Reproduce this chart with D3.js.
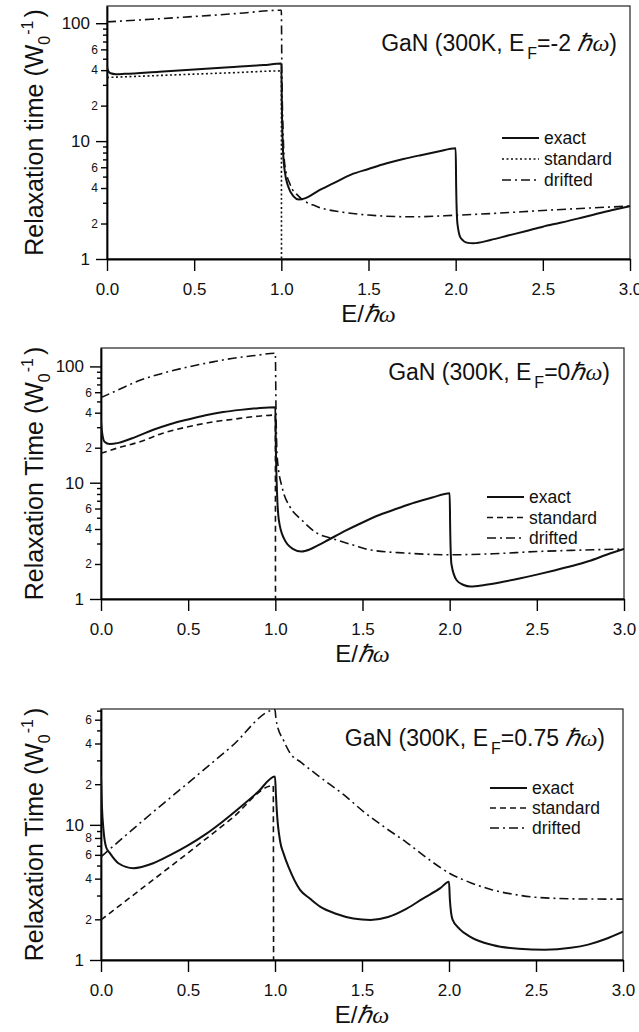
<!DOCTYPE html>
<html lang="en">
<head>
  <meta charset="UTF-8">
  <title>GaN relaxation time</title>
  <script src="https://cdnjs.cloudflare.com/ajax/libs/d3/7.8.5/d3.min.js"></script>
  <style>
    body { margin: 0; background: white; }
    svg { background: white; display: block; }
    text { font-family: "Liberation Sans", Arial, sans-serif; fill: #111; }
  </style>
</head>
<body>
  <script>
    // x values are E / hbar-omega, y values are relaxation times in units of 1/W0

    // panel 1 : E_F = -2 hbar omega
    var exact1 = [[0,43],[0.005,40],[0.02,37.6],[0.05,37],[0.1,37.2],[0.3,38.8],[0.5,40.5],[0.7,42.3],[0.9,44.2],[1.0,45.5],
      [1.003,20],[1.01,8],[1.02,5.5],[1.04,4.1],[1.07,3.4],[1.1,3.2],[1.13,3.25],[1.16,3.4],[1.2,3.7],[1.3,4.4],[1.4,5.2],
      [1.5,5.8],[1.6,6.45],[1.7,7.05],[1.8,7.6],[1.9,8.15],[2.0,8.7],[2.003,4],[2.01,2],[2.03,1.5],[2.07,1.37],[2.1,1.36],
      [2.2,1.45],[2.3,1.58],[2.4,1.72],[2.5,1.88],[2.6,2.03],[2.7,2.2],[2.8,2.4],[2.9,2.6],[3.0,2.81]];
    var standard1 = [[0,34.7],[0.25,35.8],[0.5,37],[0.75,38.2],[1.0,39.4],[1.001,0.5]];
    var drifted1 = [[0,102.6],[0.25,108],[0.5,114],[0.75,121],[1.0,129],[1.003,40],[1.01,12],[1.02,6.3],[1.05,4.3],[1.1,3.4],
      [1.2,2.8],[1.35,2.5],[1.5,2.36],[1.75,2.28],[2.0,2.35],[2.25,2.45],[2.5,2.58],[2.75,2.7],[3.0,2.81]];

    // panel 2 : E_F = 0
    var exact2 = [[0,34],[0.005,28],[0.02,22.5],[0.05,21.5],[0.1,22],[0.2,24.8],[0.3,28.5],[0.4,32],[0.5,35],[0.6,38],[0.7,40.5],
      [0.8,42.3],[0.9,43.7],[1.0,44.5],[1.003,20],[1.01,8],[1.02,4.8],[1.05,3.3],[1.1,2.7],[1.15,2.56],[1.2,2.68],[1.25,2.92],
      [1.3,3.2],[1.4,3.85],[1.5,4.55],[1.6,5.3],[1.7,6.0],[1.8,6.75],[1.9,7.45],[2.0,8.13],[2.003,4],[2.01,2],[2.04,1.45],
      [2.08,1.32],[2.12,1.28],[2.2,1.32],[2.3,1.4],[2.4,1.5],[2.5,1.62],[2.6,1.76],[2.7,1.92],[2.8,2.12],[2.9,2.4],[3.0,2.69]];
    var standard2 = [[0,17.9],[0.1,20],[0.224,22.5],[0.35,26.5],[0.5,30.3],[0.65,33.5],[0.75,35],[0.9,37.3],[1.0,38.2],[1.001,0.5]];
    var drifted2 = [[0,54],[0.1,63],[0.224,76],[0.35,87],[0.5,99],[0.65,110],[0.75,117],[0.9,125],[1.0,130],[1.004,40],
      [1.012,15.7],[1.04,9],[1.084,6.2],[1.15,4.8],[1.237,3.7],[1.33,3.3],[1.45,2.9],[1.54,2.65],[1.75,2.48],[2.0,2.4],
      [2.25,2.45],[2.5,2.56],[2.75,2.63],[3.0,2.69]];

    // panel 3 : E_F = 0.75 hbar omega
    var exact3 = [[0,22.8],[0.005,14],[0.015,9],[0.03,6.8],[0.05,6.2],[0.1,5.2],[0.186,4.78],[0.3,5.2],[0.4,6.0],[0.5,7.05],
      [0.6,8.5],[0.7,10.6],[0.8,13.5],[0.9,17.4],[1.0,22.8],[1.005,17],[1.01,12.9],[1.03,7.5],[1.048,6.2],[1.08,4.8],[1.144,3.3],
      [1.2,2.85],[1.259,2.48],[1.35,2.2],[1.45,2.03],[1.55,1.98],[1.65,2.08],[1.757,2.4],[1.85,2.85],[1.95,3.4],[2.0,3.8],
      [2.005,2.8],[2.02,2.0],[2.06,1.7],[2.12,1.49],[2.25,1.29],[2.4,1.21],[2.55,1.19],[2.7,1.23],[2.8,1.3],[2.9,1.43],[3.0,1.62]];
    var standard3 = [[0,1.98],[0.25,3.5],[0.5,6.2],[0.75,11.1],[0.99,19.5],[0.992,0.5]];
    var drifted3 = [[0,5.8],[0.25,11],[0.5,20.4],[0.75,38],[1.0,71],[1.005,62],[1.01,56.6],[1.05,42],[1.086,34],[1.15,29],
      [1.26,22.5],[1.4,16.5],[1.51,12.5],[1.63,9.6],[1.757,7.4],[1.88,5.6],[2.0,4.4],[2.12,3.75],[2.25,3.3],[2.38,3.05],
      [2.5,2.91],[2.75,2.83],[3.0,2.82]];

    var xTicks = [0, 0.5, 1.0, 1.5, 2.0, 2.5, 3.0];
    var seriesNames = ["exact", "standard", "drifted"];
    var fermiLabels = ["-2 ", "0", "0.75 "];

    var w = 639;
    var h = 1032;

    var svg = d3.select("body").append("svg")
      .attr("width", w)
      .attr("height", h);

    var panels = [
      { box: [107, 630, 6, 259], ymax: 140, data: [exact1, standard1, drifted1], ylab: "Relaxation time (W",
        titleX: 617, titleY: 51, legX: 502, legY: 138, legGap: 21, stdDash: "2,2.5", minorLab: [2,4,6] },
      { box: [101, 624, 348, 599], ymax: 144, data: [exact2, standard2, drifted2], ylab: "Relaxation Time (W",
        titleX: 610, titleY: 380, legX: 487, legY: 497, legGap: 20.5, stdDash: "6,4", minorLab: [2,4,6] },
      { box: [101, 623, 709, 960], ymax: 72, data: [exact3, standard3, drifted3], ylab: "Relaxation Time (W",
        titleX: 605, titleY: 746, legX: 490, legY: 788, legGap: 20, stdDash: "6,4", minorLab: [2,4,6,8] }
    ];

    panels.forEach(function(p, i) {
      var L = p.box[0], R = p.box[1], T = p.box[2], B = p.box[3];
      var g = svg.append("g");

      var x = d3.scaleLinear().domain([0, 3]).range([L, R]);
      var y = d3.scaleLog().domain([1, p.ymax]).range([B, T]);

      // split log ticks into decades, labelled minors and plain minors
      var majors = [], labMinors = [], minors = [];
      for (var d = 1; d <= 100; d *= 10) {
        for (var k = 1; k <= 9; k++) {
          var v = k * d;
          if (v > p.ymax) continue;
          if (k == 1) majors.push(v);
          else if (p.minorLab.indexOf(k) >= 0) labMinors.push(v);
          else minors.push(v);
        }
      }

      g.append("clipPath").attr("id", "clip" + i)
        .append("rect").attr("x", L).attr("y", T).attr("width", R - L).attr("height", B - T);

      // thin frame on top and right
      g.append("rect")
        .attr("x", L).attr("y", T).attr("width", R - L).attr("height", B - T)
        .attr("fill", "none").attr("stroke", "#222").attr("stroke-width", 1.2);

      g.append("g").attr("transform", "translate(" + L + ",0)")
        .call(d3.axisLeft(y).tickValues(minors).tickSize(4).tickSizeOuter(0).tickFormat(""))
        .call(function(s) { s.select(".domain").remove(); });
      g.append("g").attr("transform", "translate(" + L + ",0)")
        .call(d3.axisLeft(y).tickValues(labMinors).tickSize(6).tickSizeOuter(0).tickPadding(3)
          .tickFormat(function(v) { return String(v / Math.pow(10, Math.floor(Math.log10(v) + 1e-9))); }))
        .call(function(s) { s.select(".domain").remove(); s.selectAll("text").attr("font-size", 12); });
      g.append("g").attr("transform", "translate(" + L + ",0)")
        .call(d3.axisLeft(y).tickValues(majors).tickSize(11).tickSizeOuter(0).tickPadding(6).tickFormat(d3.format("d")))
        .call(function(s) { s.select(".domain").attr("stroke-width", 1.8); s.selectAll("text").attr("font-size", 17); });

      g.append("g").attr("transform", "translate(0," + B + ")")
        .call(d3.axisBottom(x).tickValues(xTicks).tickSize(12).tickSizeOuter(0).tickPadding(12).tickFormat(d3.format(".1f")))
        .call(function(s) { s.select(".domain").attr("stroke-width", 1.8); s.selectAll("text").attr("font-size", 17); });

      g.selectAll(".tick line").attr("stroke-width", 1.4);
      g.selectAll(".tick text").attr("fill", "#111").attr("font-family", "Liberation Sans, Arial, sans-serif");

      // curves
      var line = d3.line()
        .x(function(d) { return x(d[0]); })
        .y(function(d) { return y(d[1]); })
        .curve(d3.curveMonotoneX);

      var dashes = [null, p.stdDash, "9,4,2,4"];
      var widths = [2, 1.6, 1.6];

      g.append("g").attr("clip-path", "url(#clip" + i + ")")
        .selectAll("path")
        .data(p.data)
        .enter()
        .append("path")
        .attr("d", line)
        .attr("fill", "none")
        .attr("stroke", "#111")
        .attr("stroke-width", function(d, j) { return widths[j]; })
        .attr("stroke-dasharray", function(d, j) { return dashes[j]; });

      // legend
      var leg = g.selectAll(".leg")
        .data(seriesNames)
        .enter()
        .append("g")
        .attr("transform", function(d, j) { return "translate(" + p.legX + "," + (p.legY + j * p.legGap) + ")"; });
      leg.append("line")
        .attr("x1", 0).attr("x2", 37).attr("y1", 0).attr("y2", 0)
        .attr("stroke", "#111")
        .attr("stroke-width", function(d, j) { return widths[j]; })
        .attr("stroke-dasharray", function(d, j) { return dashes[j]; });
      leg.append("text")
        .attr("x", 42).attr("y", 6)
        .attr("font-size", 17.5)
        .text(function(d) { return d; });

      // title
      var t = g.append("text")
        .attr("x", p.titleX).attr("y", p.titleY)
        .attr("text-anchor", "end")
        .attr("font-size", 23);
      t.append("tspan").text("GaN (300K, E");
      t.append("tspan").attr("font-size", 16).attr("dx", 3).attr("dy", 8).text("F");
      t.append("tspan").attr("dy", -8).text("=" + fermiLabels[i]);
      t.append("tspan").attr("font-family", "Liberation Serif, serif").attr("font-style", "italic").attr("font-size", 24).text("\u210F\u03C9");
      t.append("tspan").text(")");

      // axis titles
      var yl = g.append("text")
        .attr("transform", "translate(43," + ((T + B) / 2) + ") rotate(-90)")
        .attr("text-anchor", "middle")
        .attr("font-size", 25);
      yl.append("tspan").text(p.ylab);
      yl.append("tspan").attr("font-size", 16).attr("dy", 7).text("0");
      yl.append("tspan").attr("font-size", 16).attr("dy", -17).attr("dx", 1).text("-1");
      yl.append("tspan").attr("dy", 10).attr("dx", 3).text(")");

      var xl = g.append("text")
        .attr("x", (L + R) / 2).attr("y", B + 63)
        .attr("text-anchor", "middle")
        .attr("font-size", 24);
      xl.append("tspan").text("E/");
      xl.append("tspan").attr("font-family", "Liberation Serif, serif").attr("font-style", "italic").text("\u210F\u03C9");
    });
  </script>
</body>
</html>
